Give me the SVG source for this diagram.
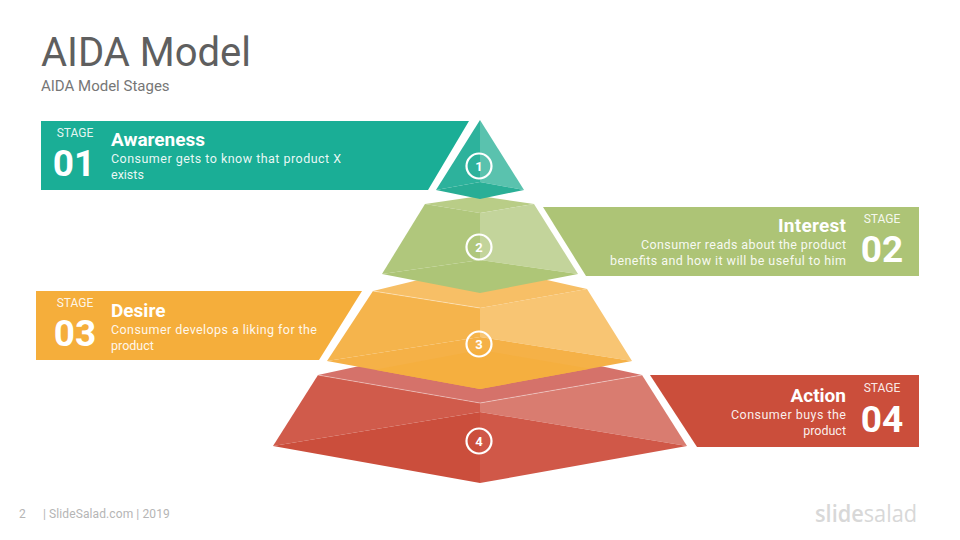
<svg xmlns="http://www.w3.org/2000/svg" width="960" height="540" viewBox="0 0 960 540">
<style>
text{font-family:Roboto,"Liberation Sans",sans-serif}
.stage{font-size:12px;fill:#fff;fill-opacity:.9}
.num{font-size:37px;font-weight:700;fill:#fff}
.head{font-size:19px;font-weight:700;fill:#fff}
.desc{font-size:12.500px;fill:#fff;fill-opacity:.92}
.badge{fill:none;stroke:#fff;stroke-width:2.200}
.bn{font-size:13px;font-weight:700;fill:#fff;text-anchor:middle}
.e{text-anchor:end}
.m{text-anchor:middle}
.hair{stroke:#fff;stroke-opacity:.55;stroke-width:.7;fill:none}
</style>
<rect width="960" height="540" fill="#fff"/>
<text x="41" y="66" font-size="40" fill="#5f5f5f">AIDA Model</text>
<text x="41" y="91" font-size="15" fill="#767676">AIDA Model Stages</text>

<g id="banner-1">
<polygon points="41,121 469,121 428,190 41,190" fill="#1AAE96"/>
<text class="stage m" x="75" y="137">STAGE</text>
<text class="num m" x="74" y="176">01</text>
<text class="head" x="111" y="146">Awareness</text>
<text class="desc" x="111" y="163" textLength="230" lengthAdjust="spacing">Consumer gets to know that product X</text>
<text class="desc" x="111" y="179">exists</text>
</g>
<g id="banner-2">
<polygon points="543,207 919,207 919,276 586,276" fill="#ADC476"/>
<text class="stage m" x="882" y="223">STAGE</text>
<text class="num m" x="882" y="262">02</text>
<text class="head" x="778" y="232" textLength="68" lengthAdjust="spacing">Interest</text>
<text class="desc" x="641" y="249" textLength="205" lengthAdjust="spacing">Consumer reads about the product</text>
<text class="desc" x="610" y="265" textLength="236" lengthAdjust="spacing">benefits and how it will be useful to him</text>
</g>
<g id="banner-3">
<polygon points="36,291 362,291 319,360 36,360" fill="#F5AE3B"/>
<text class="stage m" x="75" y="307">STAGE</text>
<text class="num m" x="75" y="346">03</text>
<text class="head" x="111" y="317">Desire</text>
<text class="desc" x="111" y="334" textLength="206" lengthAdjust="spacing">Consumer develops a liking for the</text>
<text class="desc" x="111" y="350">product</text>
</g>
<g id="banner-4">
<polygon points="650,375 919,375 919,447 697,447" fill="#CB4E3B"/>
<text class="stage m" x="882" y="392">STAGE</text>
<text class="num m" x="882" y="432">04</text>
<text class="head e" x="846" y="402">Action</text>
<text class="desc" x="731" y="419" textLength="115" lengthAdjust="spacing">Consumer buys the</text>
<text class="desc e" x="846" y="435">product</text>
</g>

<g id="tier-4">
<polygon points="318,375 480,340 642,375 480,403" fill="#D5726A"/>
<polygon points="318,375 480,403 480,412 273,446" fill="#D05B4B"/>
<polygon points="642,375 480,403 480,412 687,446" fill="#D97C70"/>
<polygon points="273,446 480,412 480,483" fill="#CB4E3C"/>
<polygon points="687,446 480,412 480,483" fill="#D05848"/>
<polyline class="hair" points="318,375 480,403 642,375"/>
<circle class="badge" cx="479" cy="441" r="12.500"/>
<text class="bn" x="479" y="445.500">4</text>
</g>
<g id="tier-3">
<polygon points="373,291 480,265 587,289 480,308" fill="#F7BF66"/>
<polygon points="373,291 480,308 480,337 327,361" fill="#F5B44C"/>
<polygon points="587,289 480,308 480,337 632,361" fill="#F8C573"/>
<polygon points="327,361 480,337 480,389" fill="#F5B147"/>
<polygon points="632,361 480,337 480,389" fill="#F5B147"/>
<polygon points="375,369.800 480,350 590,368.700 480,389" fill="#F5AF3F"/>
<polyline class="hair" points="373,291 480,308"/>
<circle class="badge" cx="479" cy="344" r="12.500"/>
<text class="bn" x="479" y="348.500">3</text>
</g>
<g id="tier-2">
<polygon points="425,204 480,196 534,204 480,213" fill="#B9CD87"/>
<polygon points="425,204 480,213 480,260 382,274" fill="#B0C77C"/>
<polygon points="534,204 480,213 480,260 578,274" fill="#C3D49B"/>
<polygon points="382,274 480,260 480,293" fill="#ADC577"/>
<polygon points="578,274 480,260 480,293" fill="#AEC677"/>
<circle class="badge" cx="479" cy="247" r="12.500"/>
<text class="bn" x="479" y="251.500">2</text>
</g>
<g id="tier-1">
<polygon points="480,120 436,190 480,182" fill="#2DB29C"/>
<polygon points="480,120 524,190 480,182" fill="#5AC2AE"/>
<polygon points="436,190 480,182 480,199" fill="#28AD95"/>
<polygon points="524,190 480,182 480,199" fill="#2AAF97"/>
<circle class="badge" cx="479" cy="166" r="12.500"/>
<text class="bn" x="479" y="170.500">1</text>
</g>

<text x="19" y="518" font-size="12" fill="#b5b5b5">2</text>
<text x="43" y="518" font-size="12" fill="#b5b5b5" letter-spacing=".1">| SlideSalad.com | 2019</text>
<text x="815" y="522" font-size="23" fill="#d8d8d8" textLength="102" lengthAdjust="spacingAndGlyphs" style="font-family:'Open Sans',sans-serif"><tspan font-weight="600">slide</tspan>salad</text>
</svg>
